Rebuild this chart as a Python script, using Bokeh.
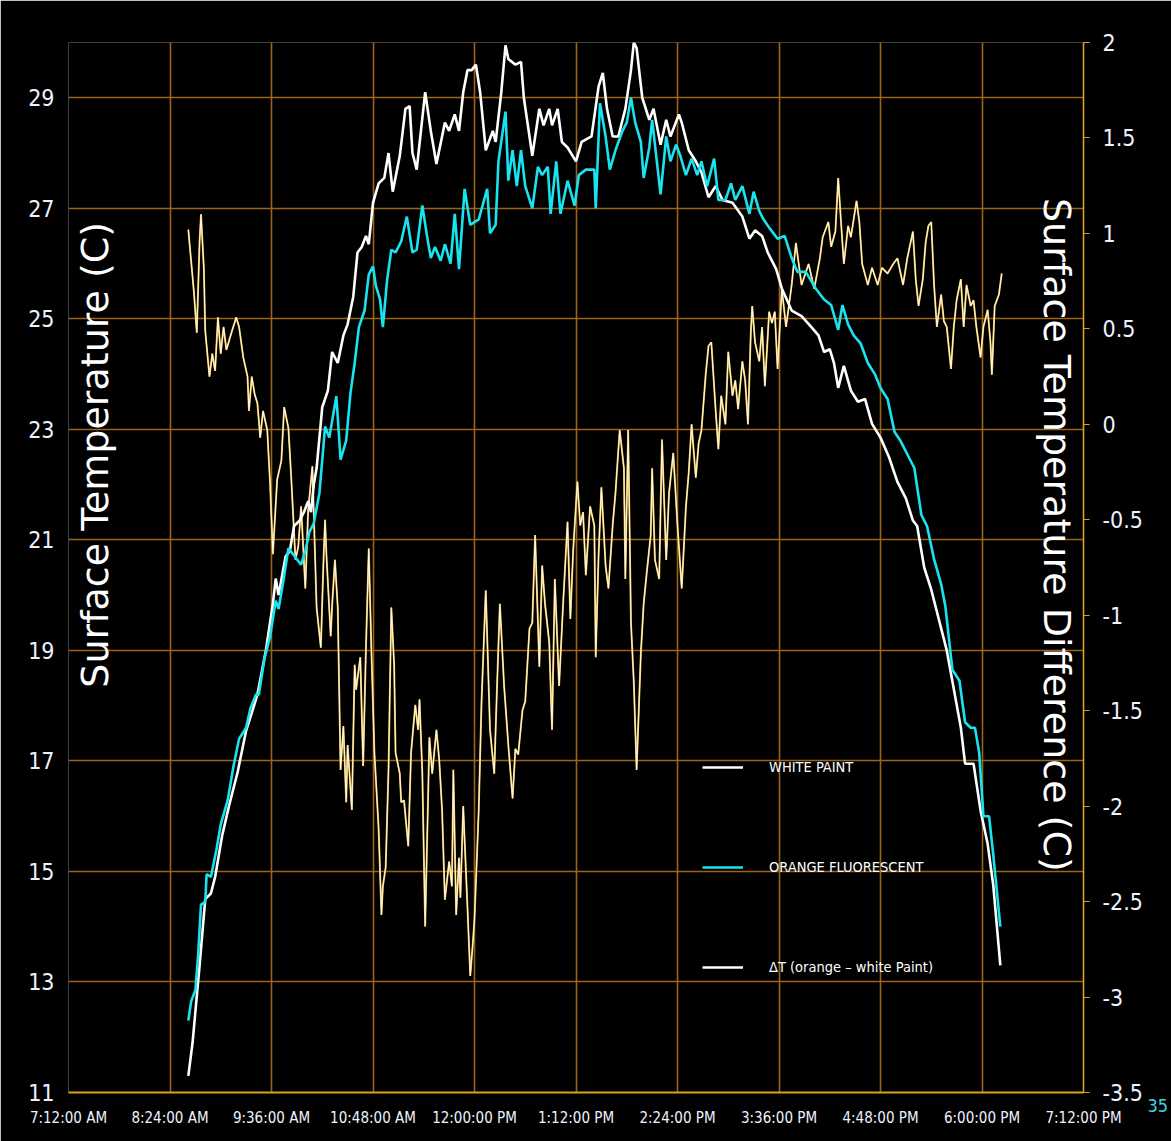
import math

from bokeh.embed import file_html
from bokeh.models import (ColumnDataSource, CustomJSTickFormatter, FixedTicker,
                          Label, Legend, LegendItem, LinearAxis, Range1d)
from bokeh.plotting import figure
from bokeh.resources import INLINE

# ---- data -----------------------------------------------------------------
# surface temperature of the white-painted panel, (clock time, deg C)
white_paint = [
    ("8:37", 11.3), ("8:40", 11.9), ("8:45", 13.3), ("8:49", 14.5), ("8:53", 14.6),
    ("8:56", 14.9), ("9:01", 15.65), ("9:06", 16.2), ("9:12", 16.8), ("9:18", 17.55),
    ("9:23", 17.95), ("9:26", 18.2), ("9:32", 19.0), ("9:37", 19.85), ("9:39", 20.3),
    ("9:41", 20.0), ("9:46", 20.7), ("9:49", 20.8), ("9:52", 21.25), ("9:56", 21.35),
    ("9:59", 21.5), ("10:02", 21.7), ("10:04", 21.5), ("10:06", 22.0), ("10:08", 22.3),
    ("10:12", 23.4), ("10:16", 23.7), ("10:19", 24.4), ("10:23", 24.2), ("10:27", 24.7),
    ("10:30", 24.9), ("10:34", 25.4), ("10:37", 26.2), ("10:40", 26.3), ("10:43", 26.5),
    ("10:45", 26.35), ("10:48", 27.1), ("10:52", 27.45), ("10:56", 27.55), ("10:59", 28.0),
    ("11:02", 27.3), ("11:07", 27.95), ("11:11", 28.8), ("11:14", 28.85), ("11:16", 28.0),
    ("11:19", 27.7), ("11:25", 29.1), ("11:29", 28.4), ("11:33", 27.8), ("11:39", 28.55),
    ("11:42", 28.4), ("11:46", 28.7), ("11:49", 28.4), ("11:52", 29.1), ("11:55", 29.5),
    ("11:58", 29.5), ("12:01", 29.6), ("12:04", 29.1), ("12:08", 28.05), ("12:13", 28.4),
    ("12:15", 28.2), ("12:19", 29.1), ("12:22", 29.95), ("12:24", 29.7), ("12:29", 29.6),
    ("12:33", 29.65), ("12:35", 29.0), ("12:41", 27.95), ("12:46", 28.8), ("12:49", 28.5),
    ("12:53", 28.8), ("12:55", 28.5), ("12:59", 28.8), ("13:02", 28.2), ("13:06", 28.1),
    ("13:12", 27.85), ("13:16", 28.2), ("13:23", 28.3), ("13:28", 29.2), ("13:31", 29.45),
    ("13:34", 28.8), ("13:38", 28.3), ("13:42", 28.3), ("13:47", 28.8), ("13:51", 29.5),
    ("13:53", 30.0), ("13:55", 29.9), ("13:59", 29.0), ("14:04", 28.6), ("14:07", 28.8),
    ("14:12", 28.15), ("14:16", 28.6), ("14:19", 28.3), ("14:25", 28.7), ("14:27", 28.55),
    ("14:32", 28.05), ("14:37", 27.85), ("14:41", 27.65), ("14:46", 27.2), ("14:51", 27.4),
    ("14:56", 27.15), ("15:03", 27.1), ("15:10", 26.85), ("15:15", 26.45), ("15:19", 26.6),
    ("15:24", 26.5), ("15:28", 26.2), ("15:34", 25.9), ("15:38", 25.55), ("15:45", 25.15),
    ("15:52", 25.05), ("15:59", 24.85), ("16:04", 24.7), ("16:08", 24.4), ("16:12", 24.45),
    ("16:15", 24.2), ("16:18", 23.75), ("16:22", 24.15), ("16:27", 23.7), ("16:32", 23.5),
    ("16:37", 23.55), ("16:42", 23.1), ("16:48", 22.85), ("16:54", 22.5), ("17:00", 22.05),
    ("17:06", 21.75), ("17:11", 21.35), ("17:14", 21.25), ("17:19", 20.5), ("17:24", 20.1),
    ("17:29", 19.6), ("17:35", 19.0), ("17:40", 18.3), ("17:45", 17.6), ("17:48", 16.95),
    ("17:54", 16.95), ("17:59", 16.1), ("18:04", 15.5), ("18:08", 14.75), ("18:13", 13.3),
]

# surface temperature of the orange fluorescent panel, (clock time, deg C)
orange_fluorescent = [
    ("8:37", 12.3), ("8:39", 12.65), ("8:42", 12.85), ("8:44", 13.5), ("8:46", 14.4),
    ("8:49", 14.45), ("8:50", 14.95), ("8:53", 14.9), ("8:57", 15.4), ("9:00", 15.85),
    ("9:05", 16.3), ("9:09", 16.9), ("9:13", 17.4), ("9:18", 17.6), ("9:21", 17.95),
    ("9:25", 18.2), ("9:27", 18.2), ("9:31", 18.85), ("9:35", 19.25), ("9:39", 19.9),
    ("9:41", 19.75), ("9:45", 20.35), ("9:48", 20.85), ("9:54", 20.65), ("9:57", 20.55),
    ("10:00", 20.8), ("10:03", 21.15), ("10:06", 21.3), ("10:10", 21.85), ("10:14", 23.05),
    ("10:17", 22.85), ("10:22", 23.6), ("10:25", 22.45), ("10:29", 22.8), ("10:32", 23.65),
    ("10:35", 24.2), ("10:38", 24.85), ("10:42", 25.15), ("10:45", 25.8), ("10:48", 25.95),
    ("10:50", 25.6), ("10:53", 25.35), ("10:55", 24.85), ("10:58", 25.7), ("11:01", 26.25),
    ("11:04", 26.2), ("11:08", 26.4), ("11:12", 26.85), ("11:16", 26.2), ("11:19", 26.25),
    ("11:23", 27.05), ("11:26", 26.55), ("11:29", 26.1), ("11:32", 26.3), ("11:36", 26.05),
    ("11:39", 26.35), ("11:43", 26.0), ("11:46", 26.9), ("11:49", 25.9), ("11:53", 27.35),
    ("11:57", 26.7), ("12:03", 26.8), ("12:09", 27.35), ("12:11", 26.55), ("12:15", 26.7),
    ("12:17", 27.85), ("12:22", 28.75), ("12:24", 27.5), ("12:27", 28.05), ("12:30", 27.4),
    ("12:33", 28.05), ("12:36", 27.4), ("12:41", 27.0), ("12:45", 27.75), ("12:48", 27.6),
    ("12:52", 27.75), ("12:54", 26.9), ("12:58", 27.85), ("13:01", 26.9), ("13:06", 27.5),
    ("13:11", 27.05), ("13:14", 27.6), ("13:19", 27.7), ("13:25", 27.7), ("13:26", 27.0),
    ("13:29", 28.9), ("13:33", 28.3), ("13:36", 27.7), ("13:40", 28.05), ("13:45", 28.4),
    ("13:48", 28.55), ("13:51", 29.0), ("13:54", 28.55), ("13:58", 28.2), ("14:00", 27.55),
    ("14:04", 28.1), ("14:06", 28.6), ("14:10", 27.7), ("14:12", 27.25), ("14:16", 28.3),
    ("14:19", 27.85), ("14:23", 28.15), ("14:26", 27.95), ("14:30", 27.6), ("14:34", 27.9),
    ("14:38", 27.6), ("14:41", 27.85), ("14:45", 27.4), ("14:50", 27.9), ("14:53", 27.15),
    ("14:58", 27.15), ("15:02", 27.45), ("15:05", 27.15), ("15:10", 27.4), ("15:15", 26.9),
    ("15:18", 27.3), ("15:22", 26.95), ("15:25", 26.8), ("15:29", 26.65), ("15:35", 26.45),
    ("15:40", 26.5), ("15:45", 26.1), ("15:49", 25.85), ("15:55", 25.85), ("16:02", 25.55),
    ("16:08", 25.35), ("16:13", 25.25), ("16:18", 24.8), ("16:21", 25.25), ("16:25", 24.9),
    ("16:29", 24.7), ("16:34", 24.55), ("16:39", 24.2), ("16:44", 24.0), ("16:48", 23.75),
    ("16:53", 23.55), ("16:58", 22.95), ("17:02", 22.8), ("17:08", 22.5), ("17:12", 22.3),
    ("17:17", 21.45), ("17:21", 21.25), ("17:26", 20.65), ("17:31", 20.2), ("17:34", 19.8),
    ("17:39", 18.65), ("17:44", 18.45), ("17:48", 17.7), ("17:52", 17.6), ("17:55", 17.6),
    ("17:58", 17.15), ("18:01", 16.0), ("18:05", 16.0), ("18:08", 15.3), ("18:13", 14.0),
]

# temperature difference orange - white, (clock time, deg C), right axis
delta_t = [
    ("8:37", 1.02), ("8:41", 0.69), ("8:43", 0.48), ("8:45", 0.96), ("8:46", 1.1),
    ("8:48", 0.82), ("8:49", 0.49), ("8:52", 0.25), ("8:54", 0.37), ("8:56", 0.28),
    ("8:58", 0.56), ("9:00", 0.37), ("9:02", 0.51), ("9:04", 0.39), ("9:08", 0.49),
    ("9:11", 0.56), ("9:13", 0.51), ("9:16", 0.35), ("9:19", 0.25), ("9:20", 0.07),
    ("9:22", 0.25), ("9:24", 0.16), ("9:26", 0.11), ("9:28", -0.07), ("9:30", 0.07),
    ("9:33", -0.03), ("9:35", -0.31), ("9:37", -0.68), ("9:40", -0.29), ("9:43", -0.19),
    ("9:45", 0.09), ("9:48", -0.02), ("9:50", -0.28), ("9:53", -0.71), ("9:55", -0.64),
    ("9:57", -0.43), ("10:00", -0.86), ("10:02", -0.45), ("10:05", -0.22), ("10:08", -0.96),
    ("10:11", -1.17), ("10:13", -0.69), ("10:14", -0.5), ("10:15", -0.69), ("10:18", -1.11),
    ("10:19", -0.95), ("10:21", -0.71), ("10:23", -0.96), ("10:25", -1.81), ("10:27", -1.58),
    ("10:29", -1.98), ("10:30", -1.68), ("10:33", -2.02), ("10:35", -1.26), ("10:36", -1.39),
    ("10:39", -1.22), ("10:41", -1.79), ("10:43", -1.17), ("10:45", -0.65), ("10:47", -1.22),
    ("10:49", -1.72), ("10:52", -2.12), ("10:54", -2.57), ("10:55", -2.42), ("10:57", -2.32),
    ("10:59", -1.81), ("11:01", -0.96), ("11:03", -1.26), ("11:04", -1.72), ("11:07", -1.83),
    ("11:08", -1.98), ("11:10", -1.97), ("11:13", -2.21), ("11:15", -1.72), ("11:18", -1.47),
    ("11:20", -1.6), ("11:21", -1.44), ("11:23", -1.83), ("11:25", -2.63), ("11:27", -1.98),
    ("11:28", -1.64), ("11:30", -1.83), ("11:33", -1.6), ("11:35", -1.76), ("11:37", -2.02),
    ("11:39", -2.49), ("11:42", -2.29), ("11:44", -2.42), ("11:45", -1.81), ("11:47", -2.57),
    ("11:49", -2.27), ("11:50", -2.48), ("11:52", -2.0), ("11:55", -2.53), ("11:57", -2.89),
    ("11:59", -2.7), ("12:00", -2.59), ("12:03", -2.02), ("12:05", -1.45), ("12:08", -0.87),
    ("12:11", -1.6), ("12:14", -1.83), ("12:16", -1.37), ("12:18", -0.94), ("12:21", -1.37),
    ("12:24", -1.68), ("12:27", -1.96), ("12:29", -1.7), ("12:31", -1.73), ("12:34", -1.5),
    ("12:36", -1.45), ("12:39", -1.07), ("12:41", -1.04), ("12:43", -0.58), ("12:46", -1.27),
    ("12:48", -0.74), ("12:50", -0.94), ("12:53", -1.14), ("12:55", -1.6), ("12:57", -0.81),
    ("13:00", -1.37), ("13:03", -0.92), ("13:06", -0.51), ("13:08", -1.02), ("13:10", -0.66),
    ("13:13", -0.3), ("13:15", -0.53), ("13:17", -0.46), ("13:19", -0.79), ("13:22", -0.43),
    ("13:25", -0.53), ("13:26", -1.22), ("13:28", -0.69), ("13:30", -0.33), ("13:33", -0.74),
    ("13:35", -0.86), ("13:38", -0.53), ("13:40", -0.36), ("13:43", -0.03), ("13:46", -0.23),
    ("13:47", -0.81), ("13:49", -0.03), ("13:51", -1.04), ("13:53", -1.35), ("13:55", -1.81),
    ("13:58", -1.2), ("14:00", -0.94), ("14:02", -0.79), ("14:05", -0.58), ("14:06", -0.23),
    ("14:08", -0.71), ("14:11", -0.81), ("14:13", -0.08), ("14:16", -0.71), ("14:18", -0.36),
    ("14:21", -0.15), ("14:24", -0.53), ("14:27", -0.86), ("14:30", -0.43), ("14:32", -0.25),
    ("14:34", 0.0), ("14:37", -0.28), ("14:39", -0.1), ("14:41", -0.03), ("14:44", 0.26),
    ("14:46", 0.41), ("14:48", 0.43), ("14:51", 0.08), ("14:53", -0.13), ("14:55", 0.15),
    ("14:58", 0.0), ("15:00", 0.38), ("15:03", 0.15), ("15:05", 0.23), ("15:07", 0.08),
    ("15:10", 0.33), ("15:12", 0.23), ("15:14", 0.0), ("15:16", 0.48), ("15:17", 0.62),
    ("15:19", 0.43), ("15:22", 0.33), ("15:24", 0.51), ("15:26", 0.2), ("15:29", 0.59),
    ("15:31", 0.53), ("15:33", 0.59), ("15:35", 0.29), ("15:38", 0.71), ("15:41", 0.51),
    ("15:45", 0.73), ("15:48", 0.95), ("15:52", 0.73), ("15:57", 0.84), ("16:01", 0.71),
    ("16:05", 0.87), ("16:07", 0.98), ("16:11", 1.06), ("16:13", 0.93), ("16:16", 1.01),
    ("16:18", 1.29), ("16:20", 1.06), ("16:22", 0.84), ("16:25", 1.04), ("16:27", 0.98),
    ("16:31", 1.17), ("16:33", 1.06), ("16:35", 0.84), ("16:39", 0.73), ("16:42", 0.82),
    ("16:46", 0.73), ("16:49", 0.82), ("16:53", 0.79), ("16:57", 0.84), ("17:00", 0.87),
    ("17:04", 0.73), ("17:07", 0.87), ("17:11", 1.01), ("17:13", 0.76), ("17:15", 0.62),
    ("17:18", 0.76), ("17:20", 0.95), ("17:22", 1.04), ("17:24", 1.06), ("17:26", 0.73),
    ("17:28", 0.51), ("17:31", 0.68), ("17:33", 0.54), ("17:35", 0.51), ("17:38", 0.29),
    ("17:40", 0.51), ("17:42", 0.65), ("17:45", 0.76), ("17:47", 0.51), ("17:49", 0.73),
    ("17:52", 0.62), ("17:54", 0.65), ("17:56", 0.51), ("17:59", 0.35), ("18:01", 0.51),
    ("18:04", 0.6), ("18:06", 0.43), ("18:07", 0.26), ("18:09", 0.62), ("18:12", 0.68),
    ("18:14", 0.79),
]

# axis ticks (x in minutes after midnight)
x_tick_minutes = [432, 504, 576, 648, 720, 792, 864, 936, 1008, 1080, 1152]
x_tick_labels = ["7:12:00 AM", "8:24:00 AM", "9:36:00 AM", "10:48:00 AM", "12:00:00 PM",
                 "1:12:00 PM", "2:24:00 PM", "3:36:00 PM", "4:48:00 PM", "6:00:00 PM",
                 "7:12:00 PM"]
temp_ticks = [11, 13, 15, 17, 19, 21, 23, 25, 27, 29]
diff_ticks = [-3.5, -3, -2.5, -2, -1.5, -1, -0.5, 0, 0.5, 1, 1.5, 2]
corner_text = "35"

series_names = ["WHITE PAINT", "ORANGE FLUORESCENT", "\u0394T (orange \u2013 white Paint)"]

# ---- styling --------------------------------------------------------------
NARROW = "DejaVu Sans Condensed, Roboto, sans-serif"
GRID = "#9c6419"
GOLD = "#d9a322"
LABEL = "#eef2ff"


def to_minutes(clock):
    h, m = clock.split(":")
    return int(h) * 60 + int(m)


def source(pairs):
    return ColumnDataSource(dict(t=[to_minutes(c) for c, _ in pairs],
                                 v=[v for _, v in pairs]))


p = figure(width=1171, height=1141,
           x_range=Range1d(432, 1152), y_range=Range1d(11, 30),
           output_backend="svg", toolbar_location=None,
           background_fill_color="black", border_fill_color="black",
           min_border_left=68, min_border_right=84,
           min_border_top=42, min_border_bottom=49)
p.outline_line_color = None

p.extra_y_ranges = {"diff": Range1d(-3.5, 2)}

# bottom time axis
xt = FixedTicker(ticks=x_tick_minutes)
p.xaxis.ticker = xt
p.xaxis.major_label_overrides = dict(zip(x_tick_minutes, x_tick_labels))
p.xaxis.axis_line_color = GOLD
p.xaxis.axis_line_width = 2
p.xaxis.major_tick_line_color = None
p.xaxis.minor_tick_line_color = None
p.xaxis.major_tick_out = 0
p.xaxis.major_tick_in = 0
p.xaxis.major_label_standoff = 16
p.xaxis.major_label_text_font = NARROW
p.xaxis.major_label_text_font_size = "15px"
p.xaxis.major_label_text_color = LABEL

# left temperature axis
yt = FixedTicker(ticks=temp_ticks)
p.yaxis.ticker = yt
p.yaxis.axis_line_color = None
p.yaxis.major_tick_line_color = None
p.yaxis.minor_tick_line_color = None
p.yaxis.major_tick_out = 0
p.yaxis.major_tick_in = 0
p.yaxis.major_label_standoff = 14
p.yaxis.major_label_text_font = NARROW
p.yaxis.major_label_text_font_size = "23px"
p.yaxis.major_label_text_color = LABEL

p.xgrid.ticker = xt
p.ygrid.ticker = yt
p.xgrid.grid_line_color = GRID
p.ygrid.grid_line_color = GRID
p.xgrid.grid_line_width = 1.6
p.ygrid.grid_line_width = 1.6

# right difference axis
right = LinearAxis(y_range_name="diff",
                   ticker=FixedTicker(ticks=diff_ticks),
                   formatter=CustomJSTickFormatter(code="return String(tick)"),
                   axis_line_color=GOLD, axis_line_width=1.6,
                   major_tick_line_color=GOLD, major_tick_out=6, major_tick_in=0,
                   minor_tick_line_color=None,
                   major_label_standoff=13,
                   major_label_text_font=NARROW,
                   major_label_text_font_size="23px",
                   major_label_text_color=LABEL)
p.add_layout(right, "right")

# outer strip carrying the small cyan figure at the lower right corner;
# the leading empty line drops the figure half a line below the tick
corner = LinearAxis(y_range_name="diff",
                    ticker=FixedTicker(ticks=[diff_ticks[0]]),
                    formatter=CustomJSTickFormatter(args=dict(txt=corner_text),
                                                    code="return '\\n' + txt"),
                    axis_line_color=None, major_tick_line_color=None,
                    minor_tick_line_color=None, major_tick_out=0, major_tick_in=0,
                    major_label_standoff=2,
                    major_label_text_font=NARROW,
                    major_label_text_font_size="18px",
                    major_label_text_color="#3fd4e6")
p.add_layout(corner, "right")

# ---- series ---------------------------------------------------------------
dt_src = source(delta_t)
p.line("t", "v", source=dt_src, y_range_name="diff", color="#eab21a", line_width=1.9)
p.line("t", "v", source=dt_src, y_range_name="diff", color="#f8f6ee", line_width=1.1)

white_r = p.line("t", "v", source=source(white_paint), color="white", line_width=2.6)
orange_r = p.line("t", "v", source=source(orange_fluorescent), color="#19e3ef", line_width=2.6)

# key swatch for the difference series (single undrawn point)
dt_key = p.line(x=[float("nan")], y=[float("nan")], color="white", line_width=2.6)

legend = Legend(items=[LegendItem(label=series_names[0], renderers=[white_r]),
                       LegendItem(label=series_names[1], renderers=[orange_r]),
                       LegendItem(label=series_names[2], renderers=[dt_key])],
                location=(634, 115), orientation="vertical",
                spacing=80, padding=0, margin=0,
                glyph_width=41, glyph_height=20, label_height=20,
                label_standoff=26,
                label_text_font=NARROW, label_text_font_size="14.5px",
                label_text_color="white",
                background_fill_alpha=0, border_line_color=None)
p.add_layout(legend)

# axis titles drawn inside the frame
p.add_layout(Label(x=451, y=22.54, text="Surface Temperature (C)",
                   angle=math.pi / 2, text_align="center", text_baseline="middle",
                   text_font="DejaVu Sans", text_font_size="38px", text_color="white"))
p.add_layout(Label(x=1133, y=21.09, text="Surface Temperature Difference (C)",
                   angle=-math.pi / 2, text_align="center", text_baseline="middle",
                   text_font="DejaVu Sans", text_font_size="38px", text_color="white"))

open("out.html", "w").write(file_html(p, INLINE))
